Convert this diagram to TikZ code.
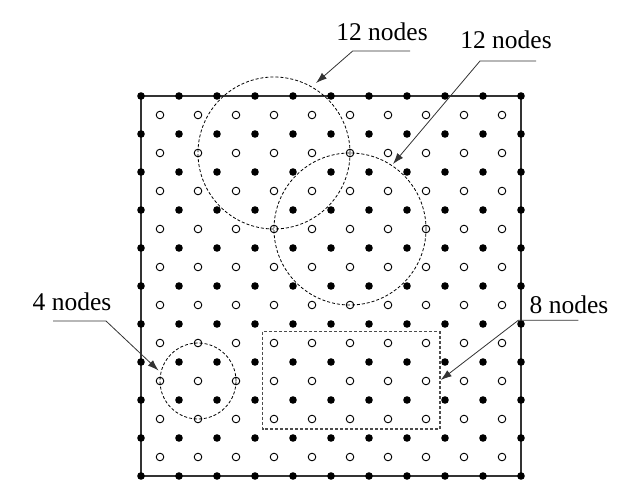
\documentclass[tikz,border=0pt]{standalone}
\usepackage{fontspec}
\setmainfont{Liberation Serif}
\usetikzlibrary{arrows.meta}
\begin{document}
\begin{tikzpicture}[x=1pt,y=-1pt,
  fdot/.style={circle,fill=black,inner sep=0pt,minimum size=7.6pt},
  odot/.style={circle,draw=black,line width=0.9pt,inner sep=0pt,minimum size=7.6pt},
  frame/.style={draw=black!80,line width=1.4pt},
  dcirc/.style={draw=black,line width=0.8pt,dash pattern=on 3pt off 2pt},
  drect/.style={draw=black!70,line width=1.1pt,dash pattern=on 3pt off 2pt},
  lbl/.style={font=\fontsize{25.5}{30}\selectfont,inner sep=0pt},
  arr/.style={draw=black!80,line width=0.8pt,-{Latex[length=11pt,width=7.5pt]}}]
\useasboundingbox (0,0) rectangle (634,502);
% frame
\draw[frame] (141,96) rectangle (521,476);
% filled nodes
\foreach \i in {0,...,10}{
  \foreach \j in {0,...,10}{
    \node[fdot] (f-\i-\j) at ({141+38*\i},{96+38*\j}) {};
  }
}
% open nodes
\foreach \i in {0,...,9}{
  \foreach \j in {0,...,9}{
    \node[odot] (o-\i-\j) at ({160+38*\i},{115+38*\j}) {};
  }
}
% dashed regions
\draw[dcirc] (o-3-1.center) circle (76pt);
\draw[dcirc] (o-5-3.center) circle (76pt);
\draw[dcirc] (o-1-7.center) circle (38pt);
\draw[drect] (262.7,331.7) rectangle (440,429);
% labels
\node[lbl] (l1) at (382,32) {12 nodes};
\node[lbl] (l2) at (506,40) {12 nodes};
\node[lbl] (l3) at (72,302) {4 nodes};
\node[lbl] (l4) at (569,305) {8 nodes};
% underline / arrow coordinates
\coordinate (u1a) at (352.7,51); \coordinate (u1b) at (410,51); \coordinate (t1) at (316,83);
\coordinate (u2a) at (480,61); \coordinate (u2b) at (536,61); \coordinate (t2) at (393,164);
\coordinate (u3a) at (53,321); \coordinate (u3b) at (106,321); \coordinate (t3) at (158.5,370.5);
\coordinate (u4a) at (518.3,320.3); \coordinate (u4b) at (578.3,320.3); \coordinate (t4) at (440.7,380);
\draw[arr] (u1b) -- (u1a) -- (t1);
\draw[arr] (u2b) -- (u2a) -- (t2);
\draw[arr] (u3a) -- (u3b) -- (t3);
\draw[arr] (u4b) -- (u4a) -- (t4);
\end{tikzpicture}
\end{document}
